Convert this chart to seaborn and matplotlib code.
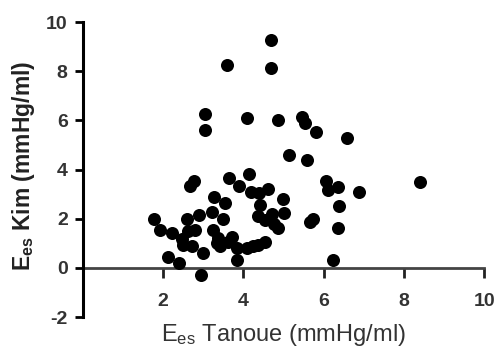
import matplotlib
matplotlib.use("Agg")
import matplotlib.pyplot as plt
import seaborn as sns
import pandas as pd

# Ees Tanoue (mmHg/ml)
ees_tanoue = [1.78, 1.91, 2.21, 2.13, 2.40, 2.93, 2.67, 2.76, 2.46, 2.50,
              2.71, 3.00, 2.59, 2.90, 2.63, 2.80, 3.27, 3.21, 3.55, 3.50,
              3.25, 3.37, 3.41, 3.62, 3.71, 3.83, 3.83, 3.64, 3.88, 4.15,
              4.20, 4.38, 4.62, 4.41, 4.37, 4.54, 4.70, 4.75, 4.85, 4.98,
              5.00, 4.08, 4.25, 4.37, 4.54, 3.04, 3.04, 3.60, 4.68, 4.68,
              4.08, 4.85, 5.47, 5.54, 5.81, 6.59, 5.13, 5.58, 6.05, 6.11,
              6.35, 6.89, 8.40, 6.39, 5.67, 5.74, 6.35, 6.24, 3.33]
# Ees Kim (mmHg/ml)
ees_kim = [2.00, 1.54, 1.40, 0.43, 0.21, -0.28, 3.33, 3.53, 1.18, 0.93,
           0.87, 0.61, 2.00, 2.15, 1.48, 1.54, 2.90, 2.29, 2.63, 2.00,
           1.54, 1.21, 0.87, 1.07, 1.27, 0.80, 0.33, 3.66, 3.33, 3.80,
           3.08, 3.04, 3.20, 2.56, 2.09, 1.95, 2.20, 1.80, 1.61, 2.79,
           2.22, 0.80, 0.87, 0.93, 1.07, 6.25, 5.61, 8.25, 9.27, 8.14,
           6.08, 6.02, 6.13, 5.88, 5.54, 5.27, 4.59, 4.37, 3.53, 3.18,
           3.27, 3.07, 3.48, 2.52, 1.85, 2.00, 1.63, 0.33, 1.00]

x_ticks = [2, 4, 6, 8, 10]
y_ticks = [-2, 0, 2, 4, 6, 8, 10]

df = pd.DataFrame({"tanoue": ees_tanoue, "kim": ees_kim})

sns.set_style("ticks")
plt.rcParams["font.family"] = ["Liberation Sans Narrow", "Liberation Sans", "DejaVu Sans"]
plt.rcParams["mathtext.default"] = "regular"
plt.rcParams["axes.unicode_minus"] = False

fig = plt.figure(figsize=(4.94, 3.54), dpi=100)
ax = fig.add_axes([0.168, 0.1045, 0.812, 0.8333])

sns.scatterplot(data=df, x="tanoue", y="kim", ax=ax, color="black",
                s=88, linewidth=0, clip_on=False, zorder=3)

ax.set_xlim(0, 10)
ax.set_ylim(-2, 10)
ax.set_xticks(x_ticks)
ax.set_yticks(y_ticks)

ax.spines["top"].set_visible(False)
ax.spines["right"].set_visible(False)
ax.spines["left"].set_visible(True)
ax.spines["bottom"].set_visible(True)
ax.spines["bottom"].set_position(("data", 0))
ax.spines["bottom"].set_color("#444444")
ax.spines["bottom"].set_linewidth(2)
ax.spines["left"].set_color("black")
ax.spines["left"].set_linewidth(2.2)
ax.spines["left"].set_zorder(5)
ax.spines["bottom"].set_zorder(2)

ax.tick_params(axis="x", bottom=True, direction="out", length=7, width=2,
               color="#222222", labelsize=14, labelcolor="#333333", pad=11)
ax.tick_params(axis="y", left=True, direction="out", length=6, width=2,
               color="black", labelsize=14, labelcolor="#333333", pad=5)
for lbl in ax.get_xticklabels() + ax.get_yticklabels():
    lbl.set_fontweight("bold")

ax.set_xlabel("")
ax.set_ylabel("")
fig.text(0.573, 0.053, r"E$_{es}$ Tanoue (mmHg/ml)", ha="center", va="center",
         fontsize=17, color="#333333")
fig.text(0.047, 0.53, r"E$_{es}$ Kim (mmHg/ml)", ha="center", va="center",
         rotation=90, fontsize=16.5, fontweight="bold", color="#222222")

fig.savefig("out.png", dpi=100)
